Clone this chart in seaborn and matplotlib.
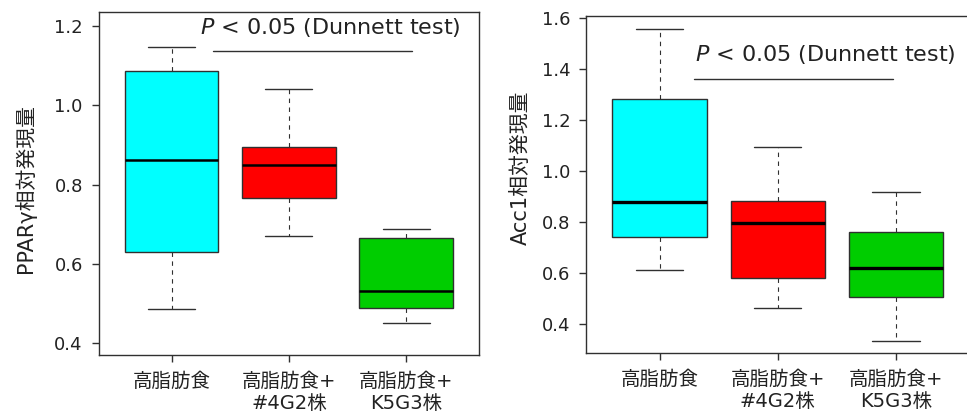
import numpy as np
import pandas as pd
import matplotlib
matplotlib.use("Agg")
import matplotlib.pyplot as plt
import seaborn as sns

# Group labels and fill colours
groups = ["高脂肪食", "高脂肪食+\n#4G2株", "高脂肪食+\nK5G3株"]
colors = ["#00FFFF", "#FF0000", "#00CD00"]

# Five-number summaries (min, Q1, median, Q3, max) for each group
ppar_high_fat = [0.485, 0.630, 0.861, 1.087, 1.146]
ppar_4g2 = [0.671, 0.765, 0.849, 0.895, 1.042]
ppar_k5g3 = [0.451, 0.488, 0.531, 0.665, 0.689]

acc1_high_fat = [0.614, 0.742, 0.880, 1.284, 1.558]
acc1_4g2 = [0.463, 0.582, 0.796, 0.883, 1.095]
acc1_k5g3 = [0.336, 0.508, 0.621, 0.761, 0.918]

ppar_ticks = [0.4, 0.6, 0.8, 1.0, 1.2]
acc1_ticks = [0.4, 0.6, 0.8, 1.0, 1.2, 1.4, 1.6]

sig_text = r"$\it{P}$ < 0.05 (Dunnett test)"


def long_frame(series):
    rows = []
    for g, vals in zip(groups, series):
        for v in vals:
            rows.append({"group": g, "value": v})
    return pd.DataFrame(rows)


ppar_df = long_frame([ppar_high_fat, ppar_4g2, ppar_k5g3])
acc1_df = long_frame([acc1_high_fat, acc1_4g2, acc1_k5g3])

sns.set_style("ticks")
plt.rcParams["font.family"] = ["DejaVu Sans", "Noto Sans CJK JP"]
plt.rcParams["axes.unicode_minus"] = False

ink = "#303030"
text_col = "#222222"

fig = plt.figure(figsize=(9.67, 4.11), dpi=100)
ax1 = fig.add_axes([0.1021, 0.1363, 0.3933, 0.8338])
ax2 = fig.add_axes([0.6063, 0.1404, 0.3961, 0.8214])


def draw(ax, df, median_lw):
    sns.boxplot(
        data=df, x="group", y="value", hue="group", order=groups,
        hue_order=groups, palette=colors, saturation=1, width=0.8,
        whis=(0, 100), legend=False, ax=ax, linecolor=ink, linewidth=1.0,
        boxprops=dict(edgecolor=ink, linewidth=1.0),
        whiskerprops=dict(color=ink, linewidth=0.8, linestyle=(0, (4, 4))),
        capprops=dict(color=ink, linewidth=1.0),
        medianprops=dict(color="black", linewidth=median_lw),
        showfliers=False,
    )
    ax.set_xlim(-0.62, 2.62)
    ax.set_xlabel("")
    for s in ax.spines.values():
        s.set_color(ink)
        s.set_linewidth(1.0)
    ax.tick_params(axis="both", direction="out", length=5, width=1.0,
                   color=ink, labelcolor=text_col)
    ax.tick_params(axis="y", pad=6.5, labelsize=13)
    ax.tick_params(axis="x", pad=7, labelsize=14)


draw(ax1, ppar_df, 1.8)
ax1.set_ylim(0.370, 1.2345)
ax1.set_yticks(ppar_ticks)
ax1.set_yticklabels([f"{t:.1f}" for t in ppar_ticks])
ax1.set_ylabel("PPARγ相対発現量", fontsize=15, color=text_col, labelpad=13)
ax1.yaxis.label.set_y(0.487)
ax1.plot([0.354, 2.05], [1.137, 1.137], color=ink, lw=1.0)
ax1.text(0.243, 1.195, sig_text, fontsize=16, color=text_col,
         ha="left", va="center")

draw(ax2, acc1_df, 2.4)
ax2.set_ylim(0.286, 1.610)
ax2.set_yticks(acc1_ticks)
ax2.set_yticklabels([f"{t:.1f}" for t in acc1_ticks])
ax2.set_ylabel("Acc1相対発現量", fontsize=15, color=text_col, labelpad=8)
ax2.yaxis.label.set_y(0.55)
ax2.plot([0.290, 1.976], [1.363, 1.363], color=ink, lw=1.0)
ax2.text(0.299, 1.456, sig_text, fontsize=16, color=text_col,
         ha="left", va="center")

fig.savefig("out.png", dpi=100)
